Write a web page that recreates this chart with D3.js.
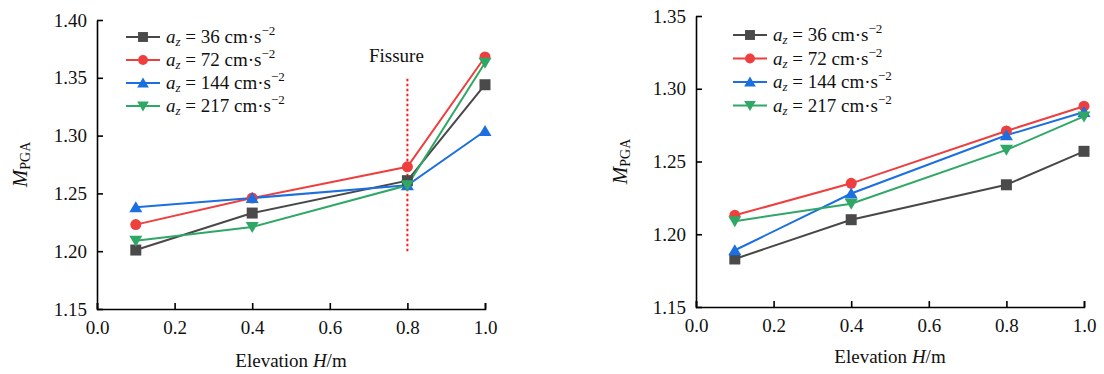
<!DOCTYPE html>
<html>
<head>
<meta charset="utf-8">
<script src="https://cdn.jsdelivr.net/npm/d3@7"></script>
<style>
body { margin: 0; background: #fff; }
</style>
</head>
<body>
<svg id="chart" width="1104" height="374" font-family="Liberation Serif"></svg>
<script>
// elevations (m)
let elevation = [0.1, 0.4, 0.8, 1.0];
let accel = ['36', '72', '144', '217'];
let colors = ['#484848', '#ee3f3f', '#1c6fe0', '#2fa866'];
let symbols = ['square', 'circle', 'triangle', 'triangleDown'];

// left panel M_PGA
let leftA36 = [1.201, 1.233, 1.261, 1.344];
let leftA72 = [1.223, 1.246, 1.273, 1.368];
let leftA144 = [1.238, 1.246, 1.257, 1.304];
let leftA217 = [1.209, 1.221, 1.257, 1.363];

// right panel M_PGA
let rightA36 = [1.183, 1.210, 1.234, 1.257];
let rightA72 = [1.213, 1.235, 1.271, 1.288];
let rightA144 = [1.189, 1.228, 1.268, 1.284];
let rightA217 = [1.209, 1.221, 1.258, 1.281];

let xTicks = [0, 0.2, 0.4, 0.6, 0.8, 1.0];
let leftYTicks = [1.15, 1.20, 1.25, 1.30, 1.35, 1.40];
let rightYTicks = [1.15, 1.20, 1.25, 1.30, 1.35];
let fissureX = 0.8, fissureRange = [1.20, 1.35];

let svg = d3.select('svg#chart');
const FONT = 'Liberation Serif';

function drawPanel(opts) {
	let g = svg.append('g').attr('font-family', FONT).attr('fill', '#111');
	let x = d3.scaleLinear([0, 1], [opts.left, opts.right]);
	let y = d3.scaleLinear(opts.yDomain, [opts.bottom, opts.top]);

	// axes, ticks inward
	let xAxis = g.append('g')
		.attr('transform', 'translate(0,' + opts.bottom + ')')
		.call(d3.axisBottom(x).tickValues(xTicks).tickFormat(d3.format('.1f')).tickSizeInner(-6).tickSizeOuter(-6).tickPadding(12));
	let yAxis = g.append('g')
		.attr('transform', 'translate(' + opts.left + ',0)')
		.call(d3.axisLeft(y).tickValues(opts.yTicks).tickFormat(d3.format('.2f')).tickSizeInner(-6).tickSizeOuter(0).tickPadding(10));
	[xAxis, yAxis].forEach(a => {
		a.attr('font-family', FONT).attr('font-size', 19);
		a.select('.domain').attr('stroke', '#000').attr('stroke-width', 1.6);
		a.selectAll('.tick line').attr('stroke', '#000').attr('stroke-width', 1.6);
		a.selectAll('.tick text').attr('fill', '#111').attr('font-family', FONT);
	});

	// fissure
	if (opts.fissure) {
		g.append('line')
			.attr('x1', x(fissureX)).attr('x2', x(fissureX))
			.attr('y1', y(fissureRange[0])).attr('y2', y(fissureRange[1]))
			.attr('stroke', '#ff1a1a').attr('stroke-width', 2).attr('stroke-dasharray', '2.5,2.5');
		g.append('text')
			.attr('x', x(fissureX) - 11).attr('y', y(fissureRange[1]) - 16)
			.attr('text-anchor', 'middle').attr('font-size', 19).text('Fissure');
	}

	let line = d3.line().x((d, i) => x(elevation[i])).y(d => y(d));
	opts.series.forEach((s, k) => {
		g.append('path').datum(s)
			.attr('fill', 'none').attr('stroke', colors[k]).attr('stroke-width', 2)
			.attr('d', line);
	});
	opts.series.forEach((s, k) => {
		g.selectAll(null).data(s).join('g')
			.attr('transform', (d, i) => 'translate(' + x(elevation[i]) + ',' + y(d) + ')')
			.each(function () { marker(d3.select(this), k); });
	});

	// y label
	let yl = g.append('text')
		.attr('transform', 'translate(' + opts.yLabelX + ',' + ((opts.top + opts.bottom) / 2) + ') rotate(-90)')
		.attr('text-anchor', 'middle').attr('font-size', 21);
	yl.append('tspan').attr('font-style', 'italic').text('M');
	yl.append('tspan').attr('font-size', 14).attr('dy', 3).text('PGA');

	// x label
	let xl = g.append('text')
		.attr('x', (opts.left + opts.right) / 2).attr('y', opts.xLabelY)
		.attr('text-anchor', 'middle').attr('font-size', 19);
	xl.append('tspan').text('Elevation ');
	xl.append('tspan').attr('font-style', 'italic').text('H');
	xl.append('tspan').text('/m');

	// legend
	accel.forEach((a, k) => {
		let ly = opts.legendY + k * opts.legendStep;
		let lg = g.append('g').attr('transform', 'translate(' + opts.legendX + ',' + ly + ')');
		lg.append('line').attr('x1', 0).attr('x2', 34).attr('stroke', colors[k]).attr('stroke-width', 2);
		marker(lg.append('g').attr('transform', 'translate(17,0)'), k, 0.9);
		let t = lg.append('text').attr('x', 40).attr('y', 6).attr('font-size', 19);
		t.append('tspan').attr('font-style', 'italic').text('a');
		t.append('tspan').attr('font-style', 'italic').attr('font-size', 13).attr('dy', 3).text('z');
		t.append('tspan').attr('dy', -3).text(' = ' + a + ' cm\u00b7s');
		t.append('tspan').attr('font-size', 13).attr('dy', -8).text('\u22122');
	});
}

function marker(sel, k, sc) {
	let c = colors[k];
	let s = sc || 1;
	if (symbols[k] == 'square') {
		sel.append('rect').attr('x', -5.5 * s).attr('y', -5.5 * s).attr('width', 11 * s).attr('height', 11 * s).attr('fill', '#4a4a4a');
	} else if (symbols[k] == 'circle') {
		sel.append('circle').attr('r', 5.5 * s).attr('fill', c);
	} else if (symbols[k] == 'triangle') {
		sel.append('path').attr('d', 'M0,-6L6.5,5L-6.5,5Z').attr('transform', 'scale(' + s + ')').attr('fill', c);
	} else {
		sel.append('path').attr('d', 'M0,6L6.5,-5L-6.5,-5Z').attr('transform', 'scale(' + s + ')').attr('fill', c);
	}
}

drawPanel({
	left: 97, right: 485, top: 20, bottom: 309,
	yDomain: [1.15, 1.40], yTicks: leftYTicks,
	series: [leftA36, leftA72, leftA144, leftA217],
	fissure: true,
	yLabelX: 27, xLabelY: 367,
	legendX: 126, legendY: 37, legendStep: 23
});
drawPanel({
	left: 696, right: 1084, top: 16, bottom: 307,
	yDomain: [1.15, 1.35], yTicks: rightYTicks,
	series: [rightA36, rightA72, rightA144, rightA217],
	fissure: false,
	yLabelX: 627, xLabelY: 363,
	legendX: 733, legendY: 35, legendStep: 23.5
});
</script>
</body>
</html>
